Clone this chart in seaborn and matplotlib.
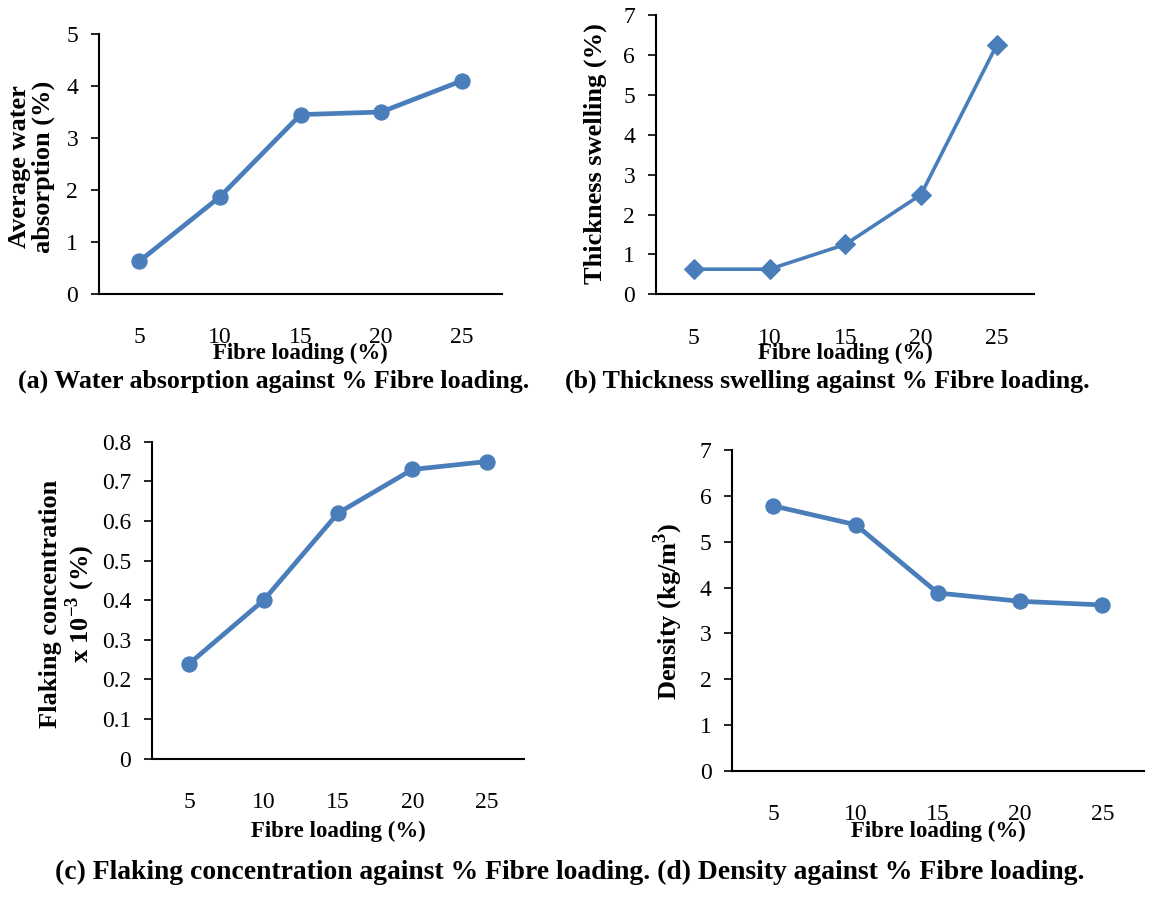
import numpy as np
import pandas as pd
import seaborn as sns
import matplotlib.pyplot as plt

# данные
fibre_loading = [5, 10, 15, 20, 25]
water_absorption = [0.63, 1.87, 3.45, 3.50, 4.10]
thickness_swelling = [0.63, 0.63, 1.25, 2.50, 6.25]
flaking_conc = [0.24, 0.40, 0.62, 0.73, 0.75]
density = [5.78, 5.37, 3.88, 3.70, 3.62]

sns.set_style('white')
plt.rcParams['font.family'] = ['Liberation Serif', 'DejaVu Serif']
plt.rcParams['mathtext.fontset'] = 'custom'
plt.rcParams['mathtext.rm'] = 'Liberation Serif'
plt.rcParams['mathtext.bf'] = 'Liberation Serif:bold'
for k in ['text.color', 'axes.labelcolor', 'xtick.color', 'ytick.color']:
    plt.rcParams[k] = 'black'

blue = '#4a7ebb'
fs_tick = 17
fs_xlab = 16.5
fs_ylab = 19

fig = plt.figure(figsize=(11.75, 9.14), dpi=100)

panels = [
    # rect, y, ylabel, yticks, marker, lw, ylabel coords, xlabel coords
    ([0.0843, 0.6783, 0.343, 0.2845], water_absorption,
     'Average water\nabsorption (%)', np.arange(0, 6, 1), 'o', 3.4,
     (-0.1675, 0.49), (0.5, -0.227)),
    ([0.5583, 0.678, 0.3221, 0.3053], thickness_swelling,
     'Thickness swelling (%)', np.arange(0, 8, 1), 'D', 2.6,
     (-0.161, 0.506), (0.5, -0.21)),
    ([0.1294, 0.1699, 0.3166, 0.3468], flaking_conc,
     'Flaking concentration\nx 10$^{\\mathbf{-3}}$ (%)', np.round(np.arange(0, 0.81, 0.1), 1), 'o', 3.4,
     (-0.226, 0.488), (0.5, -0.23)),
    ([0.6232, 0.1565, 0.35, 0.3512], density,
     'Density (kg/m$^{\\mathbf{3}}$)', np.arange(0, 8, 1), 'o', 3.4,
     (-0.156, 0.496), (0.5, -0.189)),
]

for rect, yvals, ylab, yt, mk, lw, ylc, xlc in panels:
    ax = fig.add_axes(rect)
    df = pd.DataFrame({'x': fibre_loading, 'y': yvals})
    sns.lineplot(data=df, x='x', y='y', ax=ax, color=blue, lw=lw,
                 marker=mk, markersize=11 if mk == 'o' else 10,
                 markeredgecolor=blue, markerfacecolor=blue)
    ax.set_xlim(2.5, 27.5)
    ax.set_ylim(yt[0], yt[-1])
    ax.set_xticks(fibre_loading)
    ax.set_xticklabels([str(v) for v in fibre_loading])
    ax.set_yticks(yt)
    ax.set_yticklabels(['0' if v == 0 else f'{v:g}' for v in yt])
    ax.tick_params(axis='x', length=0, pad=24, labelsize=fs_tick, colors='black')
    ax.tick_params(axis='y', length=6, width=1.2, pad=9, labelsize=fs_tick,
                   direction='out', left=True, colors='black')
    for s in ['top', 'right']:
        ax.spines[s].set_visible(False)
    for s in ['left', 'bottom']:
        ax.spines[s].set_color('black')
        ax.spines[s].set_linewidth(1.5)
    ax.set_xlabel('Fibre loading (%)', fontsize=fs_xlab, fontweight='bold', va='center')
    ax.xaxis.set_label_coords(*xlc)
    ax.set_ylabel(ylab, fontsize=fs_ylab, fontweight='bold', va='center', ha='center',
                  linespacing=1.05)
    ax.yaxis.set_label_coords(*ylc)

# подписи к рисункам
fig.text(18 / 1175, 1 - 381 / 914, '(a) Water absorption against % Fibre loading.',
         fontsize=18.7, fontweight='bold', va='center', ha='left')
fig.text(565 / 1175, 1 - 381 / 914, '(b) Thickness swelling against % Fibre loading.',
         fontsize=18.7, fontweight='bold', va='center', ha='left')
fig.text(55 / 1175, 1 - 872 / 914,
         '(c) Flaking concentration against % Fibre loading. (d) Density against % Fibre loading.',
         fontsize=19.9, fontweight='bold', va='center', ha='left')

fig.savefig('out.png', dpi=100)
